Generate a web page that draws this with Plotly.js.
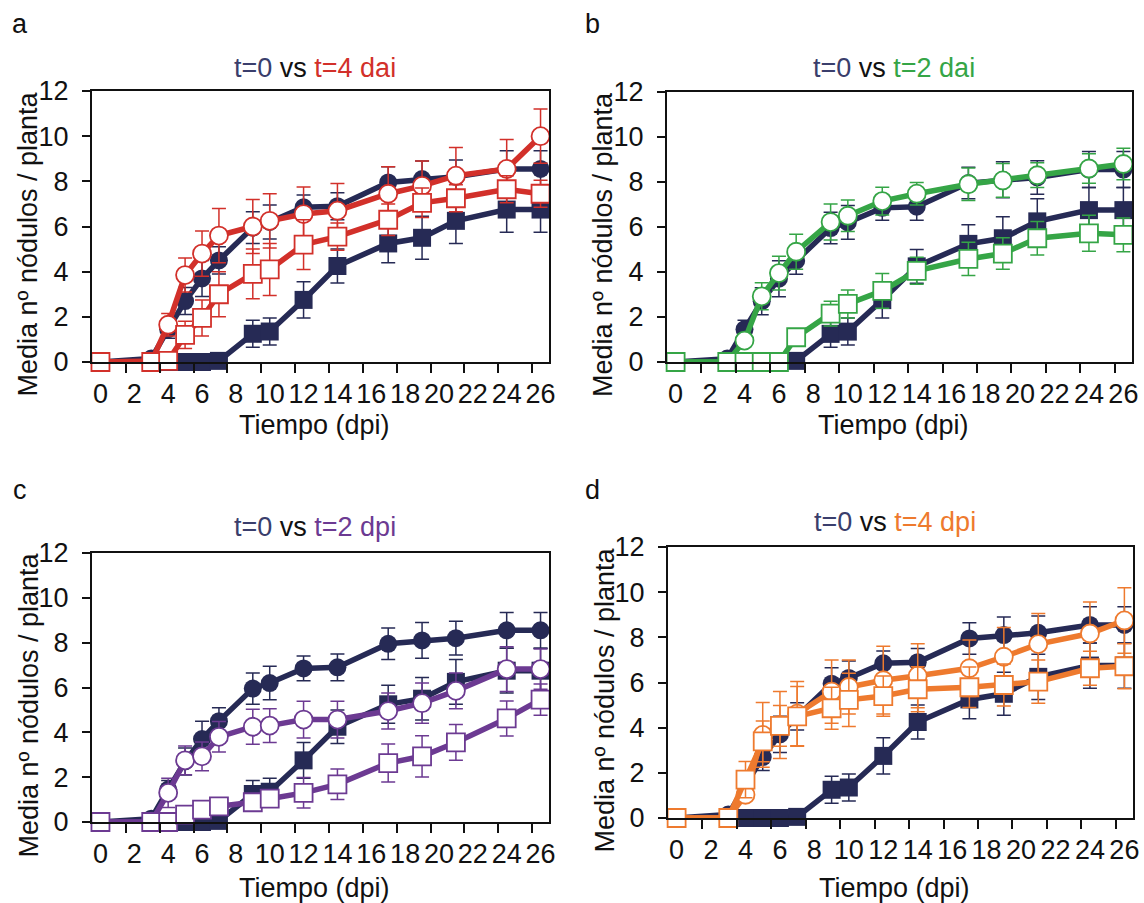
<!DOCTYPE html>
<html>
<head>
<meta charset="utf-8">
<script src="https://cdn.plot.ly/plotly-3.0.1.min.js"></script>
<style>html,body{margin:0;padding:0;background:#fff;}#chart{width:1144px;height:903px;}</style>
</head>
<body>
<div id="chart"></div>
<script>
// ---- data ----
const days = [0, 3, 4, 5, 6, 7, 9, 10, 12, 14, 17, 19, 21, 24, 26];
const tickLabels = ['0','2','4','6','8','10','12','14','16','18','20','22','24','26'];
const yTickLabels = ['0','2','4','6','8','10','12'];

// control t=0 (navy), shared by all panels
const ctrlCircle    = [0, 0.15, 1.45, 2.7, 3.7, 4.5, 5.95, 6.2, 6.85, 6.9, 7.95, 8.1, 8.2, 8.55, 8.55];
const ctrlCircleErr = [null, null, 0.4, 0.6, 0.8, 0.6, 0.7, 0.75, 0.55, 0.6, 0.7, 0.8, 0.75, 0.8, 0.8];
const ctrlSquare    = [0, 0, 0, 0, 0, 0.05, 1.25, 1.35, 2.75, 4.25, 5.25, 5.5, 6.25, 6.75, 6.75];
const ctrlSquareErr = [null, null, null, null, null, null, 0.6, 0.6, 0.8, 0.75, 0.85, 0.95, 1.0, 1.0, 1.0];

// panel a: t=4 dai (red)
const daiT4Circle    = [0, 0, 1.65, 3.85, 4.8, 5.6, 6.0, 6.25, 6.55, 6.7, 7.45, 7.8, 8.25, 8.55, 10.0];
const daiT4CircleErr = [null, null, 0.5, 0.75, 1.0, 1.2, 1.2, 1.2, 1.2, 1.2, 1.2, 1.1, 1.25, 1.3, 1.2];
const daiT4Square    = [0, 0, 0.05, 1.2, 1.95, 3.0, 3.9, 4.1, 5.2, 5.55, 6.3, 7.05, 7.25, 7.65, 7.45];
const daiT4SquareErr = [null, null, null, 0.6, 0.8, 1.0, 1.1, 1.15, 1.1, 0.6, 0.7, 0.65, 0.6, 0.6, 0.6];

// panel b: t=2 dai (green)
const daiT2Circle    = [0, 0, 0.95, 2.92, 3.95, 4.9, 6.22, 6.5, 7.15, 7.48, 7.9, 8.07, 8.3, 8.6, 8.8];
const daiT2CircleErr = [null, null, null, 0.6, 0.75, 0.78, 0.8, 0.7, 0.62, 0.5, 0.72, 0.75, 0.55, 0.65, 0.7];
const daiT2Square    = [0, 0, 0, 0, 0, 1.1, 2.15, 2.58, 3.16, 4.05, 4.58, 4.82, 5.5, 5.72, 5.65];
const daiT2SquareErr = [null, null, null, null, null, null, 0.55, 0.62, 0.77, 0.6, 0.74, 0.7, 0.74, 0.8, 0.75];

// panel c: t=2 dpi (purple)
const dpiT2Circle    = [0, 0, 1.3, 2.75, 2.93, 3.8, 4.25, 4.3, 4.57, 4.57, 4.95, 5.3, 5.85, 6.82, 6.82];
const dpiT2CircleErr = [null, null, 0.65, 0.64, 0.64, 0.68, 0.78, 0.75, 0.82, 0.82, 0.8, 0.9, 0.8, 1.0, 0.9];
const dpiT2Square    = [0, 0, 0, 0.33, 0.55, 0.7, 0.88, 1.04, 1.3, 1.68, 2.63, 2.93, 3.55, 4.62, 5.46];
const dpiT2SquareErr = [null, null, null, null, null, null, 0.3, 0.3, 0.68, 0.68, 0.85, 0.92, 0.8, 0.78, 0.7];

// panel d: t=4 dpi (orange)
const dpiT4Circle    = [0, 0, 1.03, 3.68, 4.12, 4.62, 5.6, 5.8, 6.1, 6.3, 6.63, 7.14, 7.7, 8.17, 8.75];
const dpiT4CircleErr = [null, null, null, 1.43, 1.48, 1.42, 1.4, 1.2, 1.5, 1.42, 1.25, 1.3, 1.36, 1.4, 1.45];
const dpiT4Square    = [0, 0, 1.7, 3.39, 4.08, 4.5, 4.86, 5.23, 5.4, 5.7, 5.79, 5.89, 6.04, 6.63, 6.72];
const dpiT4SquareErr = [null, null, 0.8, 0.9, 0.9, 1.32, 0.93, 1.18, 0.89, 1.0, 0.9, 0.93, 0.96, 0.75, 1.0];

// ---- styling ----
const W = 1144, H = 903;
const FONT = 'Liberation Sans, Arial, Helvetica, sans-serif';
const FS = 27;
const NAVY = '#262a55';
const panels = [
  {letter:'a', lx:20,  ly:24,  ty:68,  xt:425, px:[92,549],   py:[91,362],  color:'#d2302a', label:'t=4 dai', c:daiT4Circle, ce:daiT4CircleErr, s:daiT4Square, se:daiT4SquareErr},
  {letter:'b', lx:592, ly:24,  ty:68,  xt:425, px:[667,1132], py:[92,362],  color:'#35a546', label:'t=2 dai', c:daiT2Circle, ce:daiT2CircleErr, s:daiT2Square, se:daiT2SquareErr},
  {letter:'c', lx:20,  ly:490, ty:527, xt:888, px:[92,549],   py:[553,822], color:'#6c3a92', label:'t=2 dpi', c:dpiT2Circle, ce:dpiT2CircleErr, s:dpiT2Square, se:dpiT2SquareErr},
  {letter:'d', lx:592, ly:490, ty:522, xt:888, px:[668,1133], py:[547,818], color:'#ee7a2e', label:'t=4 dpi', c:dpiT4Circle, ce:dpiT4CircleErr, s:dpiT4Square, se:dpiT4SquareErr}
];

const fx = p => p / W;
const fy = p => 1 - p / H;

const tickVals = tickLabels.map(Number);
const tickMarks = tickVals.slice(1).map(v => v - 0.5);
const yTickVals = yTickLabels.map(Number);

const data = [];
const layout = {
  width: W, height: H,
  margin: {l:0, r:0, t:0, b:0},
  paper_bgcolor: '#fff', plot_bgcolor: '#fff',
  showlegend: false,
  font: {family: FONT, size: FS, color: '#111'},
  annotations: []
};

function series(xa, ya, y, err, color, symbol, filled) {
  return {
    x: days, y: y, xaxis: xa, yaxis: ya,
    type: 'scatter', mode: 'lines+markers', cliponaxis: false,
    line: {color: color, width: 5.5},
    marker: {symbol: symbol, size: 18,
             color: filled ? color : '#ffffff',
             line: {color: color, width: filled ? 0 : 1.8}},
    error_y: {type: 'data', array: err, visible: true, color: color, thickness: 1.5, width: 7},
    hoverinfo: 'skip'
  };
}

panels.forEach((p, i) => {
  const n = i === 0 ? '' : String(i + 1);
  const xa = 'x' + n, ya = 'y' + n;
  layout['xaxis' + n] = {
    domain: [fx(p.px[0]), fx(p.px[1])], anchor: ya,
    range: [-0.5, 26.5], fixedrange: true,
    tickmode: 'array', tickvals: tickVals, ticktext: tickLabels,
    ticks: '', ticklabelstandoff: 7, ticklabeloverflow: 'allow',
    tickfont: {family: FONT, size: FS, color: '#111'},
    minor: {tickmode: 'array', tickvals: tickMarks, ticks: 'outside', ticklen: 9, tickwidth: 2, tickcolor: '#111'},
    showline: true, mirror: true, linecolor: '#111', linewidth: 2,
    showgrid: false, zeroline: false
  };
  layout['yaxis' + n] = {
    domain: [fy(p.py[1]), fy(p.py[0])], anchor: xa,
    range: [0, 12], fixedrange: true,
    tickmode: 'array', tickvals: yTickVals, ticktext: yTickLabels,
    ticks: 'outside', ticklen: 8, tickwidth: 2, tickcolor: '#111',
    ticklabelstandoff: 8,
    tickfont: {family: FONT, size: FS, color: '#111'},
    showline: true, mirror: true, linecolor: '#111', linewidth: 2,
    showgrid: false, zeroline: false
  };

  data.push(series(xa, ya, ctrlCircle, ctrlCircleErr, NAVY, 'circle', true));
  data.push(series(xa, ya, ctrlSquare, ctrlSquareErr, NAVY, 'square', true));
  data.push(series(xa, ya, p.c, p.ce, p.color, 'circle', false));
  data.push(series(xa, ya, p.s, p.se, p.color, 'square', false));

  const cx = (p.px[0] + p.px[1]) / 2;
  layout.annotations.push({xref:'paper', yref:'paper', x: fx(p.lx), y: fy(p.ly),
    text: p.letter, showarrow:false, xanchor:'center', yanchor:'middle', font:{family:FONT, size:FS, color:'#111'}});
  layout.annotations.push({xref:'paper', yref:'paper', x: fx(cx - 6), y: fy(p.ty),
    text: '<span style="color:#3a3e6c">t=0</span> vs <span style="color:' + p.color + '">' + p.label + '</span>',
    showarrow:false, xanchor:'center', yanchor:'middle', font:{family:FONT, size:FS, color:'#111'}});
  layout.annotations.push({xref:'paper', yref:'paper', x: fx(p.px[0] - 64), y: fy((p.py[0] + p.py[1]) / 2 + 18),
    text: 'Media nº nódulos / planta', textangle: -90,
    showarrow:false, xanchor:'center', yanchor:'middle', font:{family:FONT, size:FS, color:'#111'}});
  layout.annotations.push({xref:'paper', yref:'paper', x: fx(cx - 6), y: fy(p.xt),
    text: 'Tiempo (dpi)', showarrow:false, xanchor:'center', yanchor:'middle',
    font:{family:FONT, size:FS, color:'#111'}});
});

Plotly.newPlot('chart', data, layout, {staticPlot: true, displayModeBar: false});
</script>
</body>
</html>
